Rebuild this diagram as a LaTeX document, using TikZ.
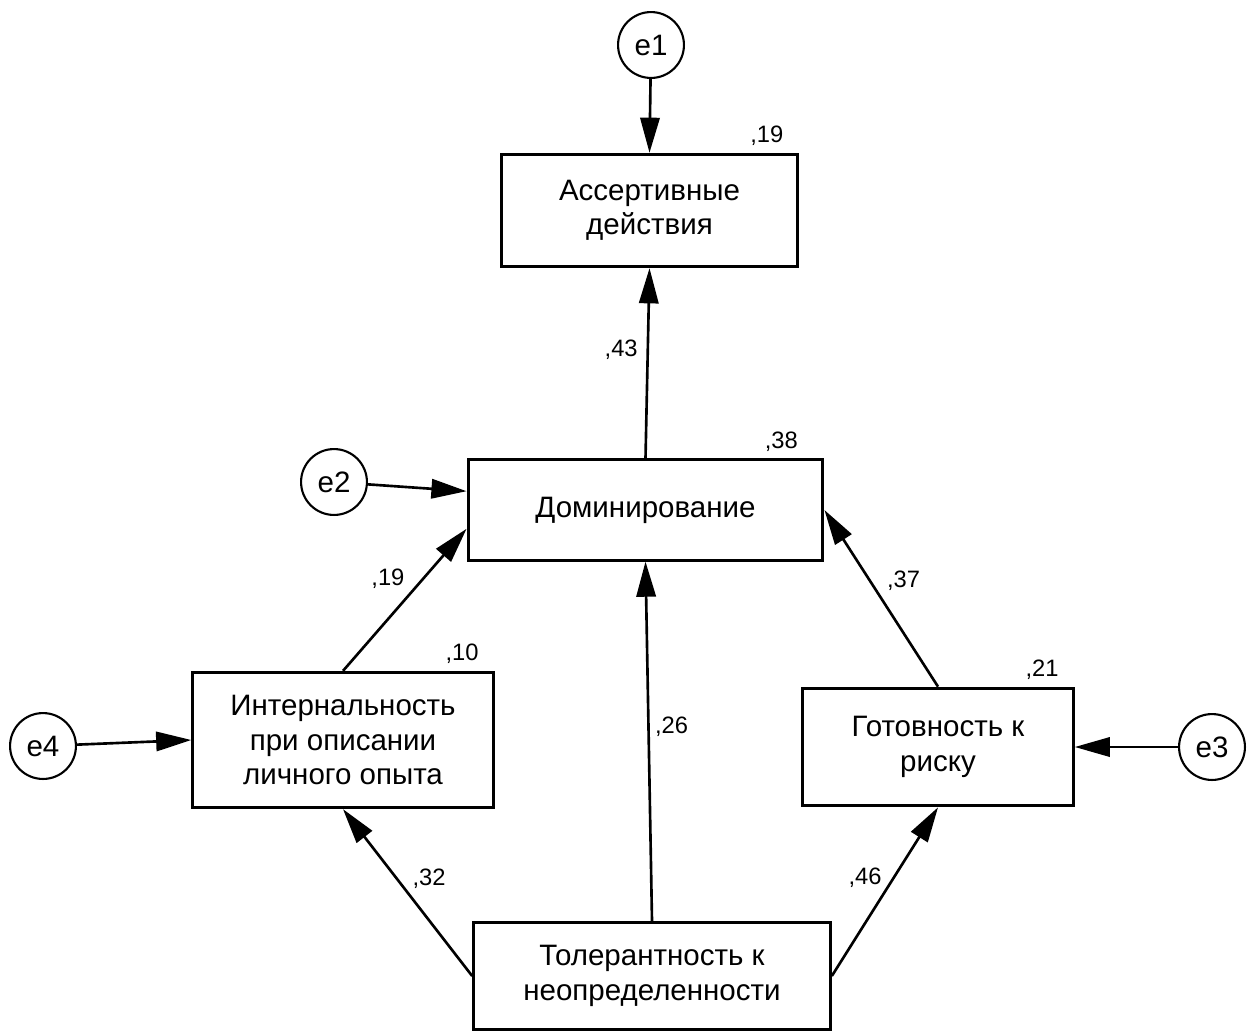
\documentclass[tikz,border=0pt]{standalone}
\usepackage{fontspec}
\setmainfont{Liberation Sans}
\usetikzlibrary{arrows.meta,positioning}
\tikzset{
  var/.style={draw, line width=1.7pt, align=center, inner sep=2pt,
    font=\fontsize{16.8}{19.5}\selectfont},
  err/.style={draw, circle, line width=1.2pt, minimum size=37.5pt, inner sep=0pt,
    font=\fontsize{16.8}{19.5}\selectfont},
  reg/.style={-{Triangle[length=20pt,width=11pt]}, line width=1.5pt},
  coef/.style={font=\fontsize{13.5}{15}\selectfont, inner sep=1pt},
  rsq/.style={coef, anchor=south east, xshift=-8pt, yshift=3pt}
}
\begin{document}
\begin{tikzpicture}[x=0.02cm, y=-0.02cm]
  \useasboundingbox (0,0) rectangle (1254,1032);
  % observed variables
  \node[var, minimum width=169pt, minimum height=64pt] (ass) at (649.5,210.5) {Ассертивные\\действия};
  \node[var, minimum width=202pt, minimum height=57pt] (dom) at (645.5,510) {Доминирование};
  \node[var, minimum width=171pt, minimum height=77pt] (int) at (343,740) {Интернальность\\при описании\\личного опыта};
  \node[var, minimum width=154pt, minimum height=67pt] (risk) at (938,747) {Готовность к\\риску};
  \node[var, minimum width=203pt, minimum height=61pt] (tol) at (652,976) {Толерантность к\\неопределенности};
  % errors
  \node[err] (e1) at (651,45) {e1};
  \node[err] (e2) at (334,482) {e2};
  \node[err] (e3) at (1212,747) {e3};
  \node[err] (e4) at (43,746) {e4};
  % squared multiple correlations
  \node[rsq] (r1) at (ass.north east) {,19};
  \node[rsq, xshift=-6pt] (r2) at (dom.north east) {,38};
  \node[rsq] (r4) at (int.north east) {,10};
  \node[rsq] (r3) at (risk.north east) {,21};
  % paths
  \draw[reg] (e1) -- (ass.north);
  \draw[reg] (e2) -- (dom.174);
  \draw[reg] (e3) -- (risk.east);
  \draw[reg] (e4) -- (int.west);
  \draw[reg] (dom.north) -- node[coef, pos=0.57, left=4pt] {,43} (ass.south);
  \draw[reg] (int.north) -- node[coef, pos=0.65, left=9pt] {,19} (dom.186);
  \draw[reg] (tol.north) -- node[coef, pos=0.54, right=2pt] {,26} (dom.south);
  \draw[reg] (risk.north) -- node[coef, pos=0.6, right=8pt] {,37} (dom.east);
  \draw[reg] (tol.west) -- node[coef, pos=0.58, right=7pt] {,32} (int.south);
  \draw[reg] (tol.east) -- node[coef, pos=0.58, left=5pt] {,46} (risk.south);
\end{tikzpicture}
\end{document}
